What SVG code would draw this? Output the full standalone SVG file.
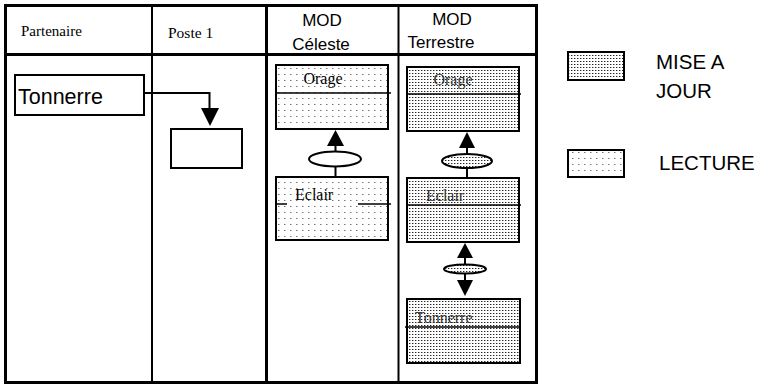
<svg xmlns="http://www.w3.org/2000/svg" width="761" height="385" viewBox="0 0 761 385">
<style>
.serif{font-family:"Liberation Serif","Times New Roman",serif;fill:#000}
.sans{font-family:"Liberation Sans",Arial,sans-serif;fill:#000}
.grid{stroke:#000;fill:none}
.box{stroke:#000;stroke-width:2}
.lec{fill:url(#lecture)}
.maj{fill:url(#maj)}
.ln{stroke:#000;stroke-width:1.5;fill:none}
.wire{stroke:#000;stroke-width:2;fill:none}
.head{fill:#000}
.dtext{font-family:"Liberation Serif","Times New Roman",serif;fill:#333;font-size:16px}
</style>
<defs>
<pattern id="lecture" width="6" height="6" patternUnits="userSpaceOnUse">
<rect width="6" height="6" fill="#fff"/>
<rect x="2" y="2" width="1.5" height="1" fill="#777"/>
</pattern>
<pattern id="maj" width="3" height="3" patternUnits="userSpaceOnUse">
<rect width="3" height="3" fill="#fff"/>
<rect x="1" y="1" width="1" height="1" fill="#222"/>
<rect x="2" y="1" width="1" height="1" fill="#aaa"/>
</pattern>
</defs>
<rect width="761" height="385" fill="#fff"/>

<g id="table">
<rect x="5.5" y="5.5" width="531" height="377" class="grid" stroke-width="3"/>
<line x1="5" y1="54.5" x2="537" y2="54.5" class="grid" stroke-width="3"/>
<line x1="152" y1="5" x2="152" y2="383" class="grid" stroke-width="2"/>
<line x1="266.5" y1="5" x2="266.5" y2="383" class="grid" stroke-width="3"/>
<line x1="398.5" y1="5" x2="398.5" y2="383" class="grid" stroke-width="2"/>
<text x="21" y="36" class="serif" font-size="15">Partenaire</text>
<text x="168" y="38" class="serif" font-size="15.5">Poste 1</text>
<text x="322" y="26" class="sans" font-size="17" text-anchor="middle">MOD</text>
<text x="321" y="50" class="sans" font-size="17" text-anchor="middle">Céleste</text>
<text x="452" y="25" class="sans" font-size="17" text-anchor="middle">MOD</text>
<text x="441" y="48" class="sans" font-size="17" text-anchor="middle">Terrestre</text>
</g>

<g id="tonnerre-partenaire">
<rect x="15" y="75" width="129" height="40" fill="#fff" class="box"/>
<text x="18" y="104" class="sans" font-size="21.5">Tonnerre</text>
</g>

<g id="poste-box">
<rect x="171" y="129" width="71" height="39" fill="#fff" class="box"/>
</g>

<g id="celeste-orage">
<rect x="276" y="65" width="112" height="64" class="box lec"/>
<line x1="275" y1="93" x2="391" y2="93" class="ln"/>
<text x="323" y="84" class="serif" font-size="16" text-anchor="middle">Orage</text>
</g>

<g id="celeste-eclair">
<rect x="276" y="177" width="112" height="63" class="box lec"/>
<line x1="275" y1="204" x2="287" y2="204" class="ln"/>
<line x1="358" y1="204" x2="391" y2="204" class="ln"/>
<text x="295" y="200" class="serif" font-size="16">Eclair</text>
</g>

<g id="celeste-link">
<ellipse cx="335" cy="159" rx="26" ry="7.5" fill="#fff" stroke="#000" stroke-width="2"/>
</g>

<g id="terrestre-orage">
<rect x="407" y="67" width="112" height="64" class="box maj"/>
<line x1="406" y1="94" x2="521" y2="94" class="ln"/>
<text x="453" y="85" class="dtext" text-anchor="middle">Orage</text>
</g>

<g id="terrestre-eclair">
<rect x="407" y="178" width="112" height="64" class="box maj"/>
<line x1="406" y1="205" x2="521" y2="205" class="ln"/>
<text x="426" y="201" class="dtext">Eclair</text>
</g>

<g id="terrestre-link1">
<ellipse cx="467" cy="161" rx="25" ry="7" class="maj" stroke="#000" stroke-width="2"/>
</g>

<g id="terrestre-link2">
<ellipse cx="465" cy="269" rx="21" ry="4.5" class="maj" stroke="#000" stroke-width="2"/>
</g>

<g id="terrestre-tonnerre">
<rect x="407" y="299" width="113" height="64" class="box maj"/>
<line x1="405" y1="327" x2="521" y2="327" class="ln"/>
<text x="415" y="323" class="dtext">Tonnerre</text>
</g>

<g id="legend-maj">
<rect x="568" y="52" width="56" height="28" class="box maj"/>
<text x="656" y="69" class="sans" font-size="20.5">MISE A</text>
<text x="656" y="98" class="sans" font-size="20.5">JOUR</text>
</g>

<g id="legend-lecture">
<rect x="568" y="150" width="56" height="27" class="box lec"/>
<text x="659" y="170" class="sans" font-size="20.5">LECTURE</text>
</g>

<g id="connectors">
<polyline points="144,93 209.5,93 209.5,110" class="wire"/>
<polygon points="201,108 219,108 210,126" class="head"/>

<line x1="335.5" y1="143" x2="335.5" y2="152" class="wire"/>
<polygon points="327,146 344,146 335.5,130" class="head"/>
<line x1="335.5" y1="166" x2="335.5" y2="177" class="wire"/>

<line x1="467" y1="145" x2="467" y2="154" class="wire"/>
<polygon points="459,148 475,148 467,132" class="head"/>
<line x1="467" y1="168" x2="467" y2="178" class="wire"/>

<polygon points="457,258 473,258 465,243" class="head"/>
<line x1="465" y1="256" x2="465" y2="265" class="wire"/>
<line x1="465" y1="273" x2="465" y2="282" class="wire"/>
<polygon points="457,280 473,280 465,296" class="head"/>
</g>
</svg>
